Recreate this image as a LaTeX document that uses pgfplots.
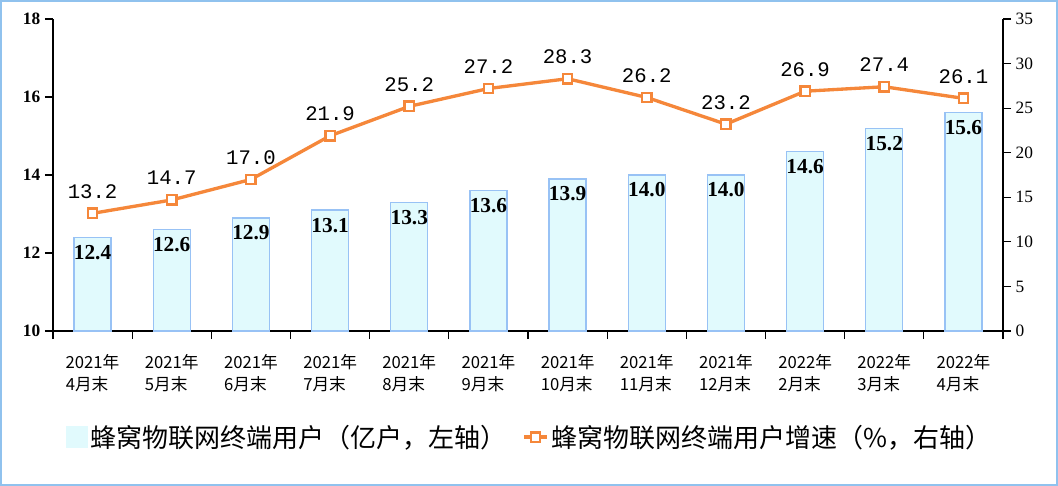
\documentclass[border=0pt]{standalone}
\usepackage{pgfplots}
\pgfplotsset{compat=1.18}
\usepackage{fontspec}
\setmainfont{Liberation Serif}
\newfontfamily\cjk{Noto Sans CJK SC}
\newfontfamily\mono{Liberation Mono}
\definecolor{barfill}{HTML}{E1FAFD}
\definecolor{baredge}{HTML}{98C2F5}
\definecolor{lineorange}{HTML}{F5873A}
\definecolor{framecol}{HTML}{90C2EE}

\begin{document}
\begin{tikzpicture}
\draw[framecol, line width=1.5pt] (0.75pt,0.75pt) rectangle (792.75pt,363.75pt);
% left axis: users (bars)
\begin{axis}[
  at={(39.75pt,116.25pt)}, anchor=south west,
  scale only axis, width=712.5pt, height=234pt,
  xmin=-0.5, xmax=11.5, ymin=10, ymax=18,
  axis x line*=bottom, axis y line*=left,
  axis line style={line width=1pt, -},
  tick style={line width=0.8pt, black},
  tick align=outside, major tick length=6pt,
  ytick={10,12,...,18},
  yticklabel style={font=\bfseries\fontsize{13}{13}\selectfont},
  /pgf/number format/assume math mode=true,
  xtick={-0.5,0.5,...,11.5},
  x tick label as interval,
  xticklabels={{2021年\\4月末},{2021年\\5月末},{2021年\\6月末},{2021年\\7月末},
    {2021年\\8月末},{2021年\\9月末},{2021年\\10月末},{2021年\\11月末},
    {2021年\\12月末},{2022年\\2月末},{2022年\\3月末},{2022年\\4月末}},
  xticklabel style={align=left, font=\cjk\fontsize{12.5}{16.5}\selectfont, yshift=-8pt},
  ybar, bar width=27.75pt, bar shift=0pt,
  nodes near coords,
  nodes near coords style={font=\bfseries\fontsize{16}{16}\selectfont, black, anchor=north, yshift=-2pt,
    /pgf/number format/.cd, fixed, fixed zerofill, precision=1},
]
\addplot[fill=barfill, draw=baredge, line width=1pt] coordinates {
(0,12.4) (1,12.6) (2,12.9) (3,13.1) (4,13.3) (5,13.6)
(6,13.9) (7,14.0) (8,14.0) (9,14.6) (10,15.2) (11,15.6)};
\end{axis}
% right axis: growth rate (line)
\begin{axis}[
  at={(39.75pt,116.25pt)}, anchor=south west,
  scale only axis, width=712.5pt, height=234pt,
  xmin=-0.5, xmax=11.5, ymin=0, ymax=35,
  axis y line*=right, axis x line=none,
  axis line style={line width=1pt, -},
  tick style={line width=0.8pt, black},
  tick align=outside, major tick length=6pt,
  ytick={0,5,...,35},
  yticklabel style={font=\fontsize{13}{13}\selectfont},
  /pgf/number format/assume math mode=true,
  legend columns=2,
  legend style={at={(0.502,-0.34)}, anchor=center, draw=none, fill=none,
    font=\cjk\fontsize{19.5}{21}\selectfont,
    /tikz/every even column/.append style={column sep=10pt}},
]
\addlegendimage{legend image code/.code={\fill[barfill] (0pt,-8pt) rectangle (16pt,8pt);}}
\addlegendentry{蜂窝物联网终端用户（亿户，左轴）}
\addplot[lineorange, line width=2.5pt, mark=square*,
  mark options={fill=white, draw=lineorange, line width=1.8pt}, mark size=3.5pt,
  nodes near coords,
  nodes near coords style={font=\mono\fontsize{15.5}{15.5}\selectfont, black, anchor=south, yshift=7pt,
    /pgf/number format/.cd, fixed, fixed zerofill, precision=1}]
coordinates {
(0,13.2) (1,14.7) (2,17.0) (3,21.9) (4,25.2) (5,27.2)
(6,28.3) (7,26.2) (8,23.2) (9,26.9) (10,27.4) (11,26.1)};
\addlegendentry{蜂窝物联网终端用户增速（\%，右轴）}
\end{axis}
\end{tikzpicture}
\end{document}
